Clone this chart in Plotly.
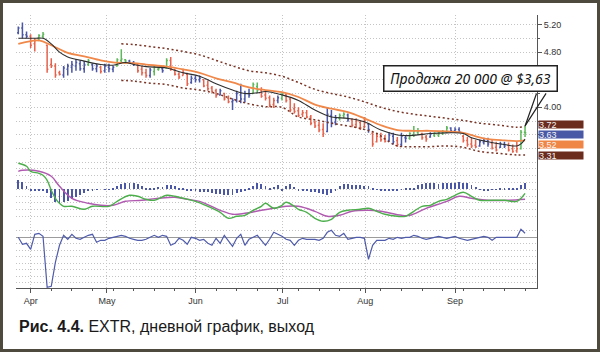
import plotly.graph_objects as go

# ---------------- data ----------------
month_labels = ["Apr", "May", "Jun", "Jul", "Aug", "Sep"]
month_pos = [3, 21.5, 43, 64.2, 84.2, 106]
price_labels = [4.00, 4.80, 5.20]

highs = [5.17, 5.23, 5.10, 5.06, 5.00, 5.06, 5.09, 4.91, 4.71, 4.64,
         4.53, 4.60, 4.63, 4.67, 4.70, 4.67, 4.67, 4.70, 4.64, 4.63,
         4.60, 4.63, 4.63, 4.60, 4.71, 4.84, 4.70, 4.69, 4.67, 4.64,
         4.60, 4.56, 4.57, 4.60, 4.57, 4.60, 4.71, 4.73, 4.56, 4.51,
         4.56, 4.50, 4.46, 4.46, 4.46,
         4.41, 4.39, 4.31, 4.27, 4.27, 4.21, 4.17, 4.13, 4.24, 4.34,
         4.24, 4.27, 4.36, 4.36, 4.29, 4.24, 4.17, 4.14, 4.17, 4.21,
         4.20, 4.14, 4.06, 4.00, 3.96, 3.96, 3.89, 3.81, 3.79, 3.77,
         3.99, 3.96, 3.89, 3.91, 3.93, 3.91, 3.84, 3.84, 3.81, 3.86,
         3.77, 3.64, 3.63, 3.63, 3.60, 3.64, 3.63, 3.57,
         3.63, 3.60, 3.64, 3.73, 3.70, 3.63, 3.60, 3.64, 3.64, 3.64,
         3.67, 3.73, 3.71, 3.71, 3.71, 3.60, 3.57, 3.56, 3.53, 3.53,
         3.56, 3.56, 3.53, 3.50, 3.50, 3.50, 3.49, 3.46, 3.50, 3.67,
         3.73]
lows = [5.06, 5.00, 5.00, 4.86, 4.81, 4.96, 5.00, 4.50, 4.57, 4.43,
        4.46, 4.43, 4.46, 4.50, 4.53, 4.53, 4.50, 4.60, 4.53, 4.51,
        4.49, 4.50, 4.51, 4.51, 4.59, 4.64, 4.63, 4.63, 4.60, 4.50,
        4.46, 4.43, 4.43, 4.46, 4.53, 4.50, 4.56, 4.53, 4.46, 4.41,
        4.46, 4.31, 4.34, 4.36, 4.36,
        4.29, 4.24, 4.21, 4.14, 4.17, 4.10, 4.06, 3.96, 4.07, 4.06,
        4.07, 4.14, 4.20, 4.21, 4.14, 4.10, 4.00, 3.99, 4.06, 4.10,
        4.07, 3.93, 3.91, 3.86, 3.86, 3.84, 3.74, 3.70, 3.64, 3.57,
        3.64, 3.71, 3.74, 3.81, 3.84, 3.79, 3.71, 3.70, 3.67, 3.70,
        3.63, 3.43, 3.49, 3.50, 3.49, 3.50, 3.46, 3.43,
        3.43, 3.49, 3.53, 3.57, 3.60, 3.53, 3.50, 3.56, 3.57, 3.57,
        3.60, 3.63, 3.63, 3.63, 3.63, 3.49, 3.43, 3.41, 3.41, 3.43,
        3.46, 3.43, 3.39, 3.36, 3.41, 3.41, 3.36, 3.34, 3.34, 3.39,
        3.57]
opens = [5.08, 5.15, 5.05, 5.03, 4.92, 4.97, 5.03, 4.90, 4.62, 4.60,
         4.50, 4.47, 4.55, 4.58, 4.60, 4.63, 4.56, 4.62, 4.62, 4.56,
         4.58, 4.53, 4.58, 4.55, 4.60, 4.68, 4.69, 4.67, 4.65, 4.62,
         4.55, 4.50, 4.46, 4.52, 4.55, 4.56, 4.57, 4.68, 4.54, 4.48,
         4.46, 4.48, 4.36, 4.42, 4.40,
         4.40, 4.32, 4.28, 4.24, 4.18, 4.20, 4.13, 4.08, 4.10, 4.18,
         4.12, 4.20, 4.20, 4.30, 4.25, 4.18, 4.14, 4.04, 4.10, 4.13,
         4.18, 4.12, 3.98, 3.95, 3.90, 3.92, 3.86, 3.78, 3.74, 3.68,
         3.65, 3.88, 3.78, 3.84, 3.88, 3.89, 3.82, 3.75, 3.78, 3.72,
         3.76, 3.62, 3.50, 3.57, 3.54, 3.52, 3.58, 3.52,
         3.46, 3.56, 3.55, 3.60, 3.64, 3.62, 3.57, 3.57, 3.59, 3.60,
         3.62, 3.64, 3.70, 3.66, 3.68, 3.58, 3.52, 3.47, 3.45, 3.44,
         3.49, 3.52, 3.48, 3.42, 3.42, 3.46, 3.45, 3.40, 3.37, 3.40,
         3.64]
closes = [5.15, 5.05, 5.03, 4.90, 4.97, 5.04, 5.06, 4.55, 4.60, 4.47,
          4.48, 4.57, 4.60, 4.62, 4.65, 4.56, 4.62, 4.68, 4.56, 4.60,
          4.52, 4.60, 4.56, 4.58, 4.69, 4.70, 4.67, 4.65, 4.62, 4.53,
          4.50, 4.46, 4.54, 4.58, 4.56, 4.53, 4.68, 4.56, 4.48, 4.44,
          4.50, 4.34, 4.42, 4.40, 4.42,
          4.31, 4.27, 4.23, 4.17, 4.24, 4.12, 4.08, 4.10, 4.20, 4.12,
          4.20, 4.18, 4.33, 4.25, 4.16, 4.13, 4.03, 4.10, 4.14, 4.19,
          4.10, 3.96, 3.94, 3.88, 3.92, 3.86, 3.77, 3.73, 3.67, 3.62,
          3.90, 3.78, 3.84, 3.88, 3.90, 3.82, 3.74, 3.80, 3.70, 3.80,
          3.68, 3.47, 3.58, 3.53, 3.51, 3.60, 3.50, 3.46,
          3.58, 3.55, 3.62, 3.66, 3.66, 3.56, 3.54, 3.61, 3.62, 3.63,
          3.65, 3.70, 3.66, 3.68, 3.65, 3.52, 3.46, 3.44, 3.43, 3.50,
          3.52, 3.47, 3.41, 3.38, 3.47, 3.44, 3.38, 3.36, 3.40, 3.64,
          3.63]
impulse = list("bbbrrggrrrrbbbbbbgbbrbbbgggbbrrrbggbgrrrrrbbb"
               "rrrrbrrbbbbbggrrrrbgrrrrrrrrrrbbbggbrrrrbrrrrbbr"
               "bbgggrrbggggbbbrrrrbbbrrbbrrrgg")

ema_slow_idx = [0, 5, 8, 12, 16, 20, 23, 28, 31, 36, 40, 44, 48, 52, 56, 60, 64, 68,
                72, 76, 80, 84, 88, 92, 96, 100, 104, 108, 111, 114, 118, 121, 123]
ema_slow = [4.92, 4.97, 4.90, 4.79, 4.74, 4.68, 4.65, 4.64, 4.62, 4.59, 4.55, 4.50,
            4.42, 4.36, 4.29, 4.25, 4.22, 4.15, 4.04, 3.98, 3.93, 3.84, 3.74, 3.67,
            3.66, 3.66, 3.65, 3.63, 3.58, 3.54, 3.52, 3.51, 3.52]

ema_fast_idx = [0, 4, 6, 8, 10, 12, 16, 20, 23, 26, 28, 31, 36, 40, 44, 48, 52, 55,
                58, 60, 64, 68, 72, 76, 80, 84, 88, 92, 95, 97, 100, 104, 108, 110,
                114, 118, 121, 122, 123]
ema_fast = [5.00, 5.00, 5.00, 4.92, 4.80, 4.73, 4.67, 4.62, 4.61, 4.65, 4.62, 4.59,
            4.57, 4.50, 4.45, 4.34, 4.25, 4.20, 4.21, 4.23, 4.18, 4.10, 3.96, 3.86,
            3.84, 3.79, 3.67, 3.60, 3.59, 3.60, 3.62, 3.63, 3.62, 3.56, 3.50, 3.46,
            3.44, 3.47, 3.54]

env_up_idx = [25, 28, 32, 36, 40, 44, 48, 52, 56, 60, 64, 68, 72, 76, 80, 84, 88,
              92, 96, 100, 104, 108, 112, 117, 121, 123]
env_up = [4.92, 4.91, 4.88, 4.85, 4.81, 4.76, 4.68, 4.60, 4.53, 4.50, 4.45, 4.36,
          4.26, 4.20, 4.15, 4.08, 4.00, 3.94, 3.90, 3.87, 3.84, 3.81, 3.77, 3.74,
          3.71, 3.72]

env_dn_idx = [25, 28, 32, 36, 40, 44, 48, 52, 56, 60, 64, 68, 72, 76, 80, 84, 87,
              90, 92, 96, 100, 104, 108, 112, 117, 121, 123]
env_dn = [4.39, 4.38, 4.35, 4.33, 4.28, 4.25, 4.20, 4.12, 4.05, 4.01, 4.00, 3.86,
          3.82, 3.77, 3.73, 3.68, 3.62, 3.50, 3.44, 3.43, 3.43, 3.44, 3.42, 3.36,
          3.33, 3.31, 3.31]

macd_idx = [0, 2, 3, 5, 6, 7, 8, 9, 10, 11, 13, 16, 18, 22, 24, 27, 29, 31, 33, 36,
            38, 40, 43, 46, 49, 51, 53, 55, 57, 59, 60, 62, 64, 65, 67, 68, 70, 72,
            74, 76, 78, 80, 83, 85, 87, 89, 92, 94, 96, 98, 100, 102, 104, 106, 108,
            110, 112, 115, 118, 121, 123]
macd_line = [26, 23, 18, 16, 14, 9, -1, -9, -14, -17, -17, -20, -17, -17, -12, -6,
             -7, -10, -11, -6, -7, -9, -12, -17, -23, -29, -27, -26, -21, -17, -14,
             -19, -16, -13, -17, -20, -23, -29, -32, -30, -23, -21, -20, -19, -22,
             -25, -27, -27, -22, -17, -16, -12, -10, -6, -3, -7, -11, -11, -11, -12, -4]

signal_idx = [0, 1, 5, 8, 10, 13, 17, 20, 23, 26, 30, 34, 38, 41, 44, 49, 52, 55, 59,
              62, 65, 68, 72, 75, 78, 81, 85, 88, 93, 95, 99, 104, 107, 110, 114, 119, 123]
signal_line = [18, 19, 18, 13, 3, -9, -14, -16, -16, -12, -11, -9, -8, -10, -12, -21,
               -25, -24, -21, -19, -17, -17, -22, -27, -26, -22, -21, -22, -26, -26,
               -19, -12, -7, -9, -11, -11, -10]

macd_hist = [9, 7, 3, -1, -1, -1.5, -1.5, -4, -9, -13,
             -15, -13, -12, -10, -8, -6, -4, -2, -1, -0.5,
             0, -0.5, 0.3, 1, 3, 5, 6, 6, 6, 5,
             3, 1.5, 0.7, 1.5, 2, 2.5, 4, 4, 3, 1.5,
             0.7, -1, -1.5, -2, -2.5, -3, -3, -4, -5, -5,
             -6, -6, -6, -4, -3, -1.5, 1, 3, 6, 5,
             3, 0.7, 2, 4, -1, 3, 5, 2, -1, -2,
             -1.5, -2.5, -3, -4, -5, -5.5, -3.5, -1, 3, 5,
             5, 4.5, 4.5, 4, 3.5, 3, 1.5, -0.7, -1.3, -2,
             -1.7, -1.3, -1, -0.7, 0.5, 1, 1.5, 4, 5.5, 6,
             6, 6, 5.5, 6, 6, 6.5, 6.5, 7, 6.5, 6,
             4, 2, -0.7, -1.3, -1.3, -0.7, 0.3, 0.7, 0.7, 0.7,
             0.7, 0.7, 4, 6]

force_index = [0, -7, -6, -12, 3, 4, 1, -50, -49, -25,
               -8, 2, -2, 3, -1, -2, 0, 2, 3, -5,
               -3, -3, -1, 0, 1, 2, 1, -1, -2, -3,
               -3, -2, 0, 2, 0, 2, 1, -8, -6, -1,
               -3, -7, 0, -1, -3, -2, -6, -8, -1, -6,
               2, -3, -9, -1, 3, -8, -2, 0, 2, -3,
               -8, -2, 5, 3, 1, -2, -3, -8, -3,
               -1, -2, -2, -2, -3, -1, 5, 7, 2, 1,
               4, -2, -1, 0, 0, -1, -22, -8, -3, -3,
               -3, -1, -2, 0, -1, 0, 0, 2, 1, -1,
               -2, -1, 0, 1, 0, -1, 0, 1, -1, -2,
               -3, -2, -1, 0, 1, 0, -3, 0, 0, 0,
               0, 0, 0, 8, 4]

tag_values = [3.72, 3.63, 3.52, 3.31]
tag_texts = ["3.72", "3.63", "3.52", "3.31"]
tag_colors = ["#6b2b1d", "#4a59a6", "#f08646", "#6b2b1d"]
tag_shift = [2.5, -2, -4, -1]

note_text = "Продажа 20 000 @ $3,63"
caption_bold = "Рис. 4.4."
caption_rest = " EXTR, дневной график, выход"

# ---------------- styling ----------------
W, H = 600, 352
ML, MR, MT, MB = 16, 63, 15, 64
PW, PH = W - ML - MR, H - MT - MB
X0, STEP = 18.3, 4.12


def paper_x(px):
    return (px - ML) / PW


def paper_y(py):
    return (H - MB - py) / PH


xrange_ = [(ML - X0) / STEP, (W - MR - X0) / STEP]
days = list(range(len(highs)))

COL = {"g": "#5eb85a", "r": "#e5634d", "b": "#4a56a6"}
GRID = "#c4c4c4"
AX = "#555555"
FONT = "Liberation Sans, Arial, sans-serif"

fig = go.Figure()

for key in ["b", "r", "g"]:
    sel = [i for i in days if impulse[i] == key]
    fig.add_trace(go.Ohlc(
        x=sel,
        open=[opens[i] for i in sel], high=[highs[i] for i in sel],
        low=[lows[i] for i in sel], close=[closes[i] for i in sel],
        increasing=dict(line=dict(color=COL[key], width=1.5)),
        decreasing=dict(line=dict(color=COL[key], width=1.5)),
        tickwidth=0.3, xaxis="x", yaxis="y", hoverinfo="skip"))

fig.add_trace(go.Scatter(x=env_up_idx, y=env_up, mode="lines", xaxis="x", yaxis="y",
                         line=dict(color="#7a3324", width=1.5, dash="2px,2.6px", shape="spline")))
fig.add_trace(go.Scatter(x=env_dn_idx, y=env_dn, mode="lines", xaxis="x", yaxis="y",
                         line=dict(color="#7a3324", width=1.5, dash="2px,2.6px", shape="spline")))
fig.add_trace(go.Scatter(x=ema_slow_idx, y=ema_slow, mode="lines", xaxis="x", yaxis="y",
                         line=dict(color="#f0884a", width=1.8, shape="spline")))
fig.add_trace(go.Scatter(x=ema_fast_idx, y=ema_fast, mode="lines", xaxis="x", yaxis="y",
                         line=dict(color="#2e2e2e", width=1.1, shape="spline")))

fig.add_trace(go.Bar(x=days, y=macd_hist, width=0.22, marker=dict(color="#4a56a6", line=dict(width=0)),
                     xaxis="x2", yaxis="y2"))
fig.add_trace(go.Scatter(x=signal_idx, y=signal_line, mode="lines", xaxis="x2", yaxis="y2",
                         line=dict(color="#b05ab0", width=1.4, shape="spline")))
fig.add_trace(go.Scatter(x=macd_idx, y=macd_line, mode="lines", xaxis="x2", yaxis="y2",
                         line=dict(color="#4caf4c", width=1.4, shape="spline")))

fig.add_trace(go.Scatter(x=days, y=force_index, mode="lines", xaxis="x3", yaxis="y3",
                         line=dict(color="#4f5bab", width=1.2)))

dom_price = [paper_y(161), 1]
dom_macd = [paper_y(224), paper_y(161)]
dom_osc = [0, paper_y(224)]

xcommon = dict(range=xrange_, tickmode="array", tickvals=month_pos, ticktext=month_labels,
               showgrid=True, gridcolor=GRID, griddash="1px,2px", gridwidth=1,
               zeroline=False, fixedrange=True)

fig.update_layout(
    width=W, height=H, margin=dict(l=ML, r=MR, t=MT, b=MB),
    paper_bgcolor="white", plot_bgcolor="white", showlegend=False,
    font=dict(family=FONT, size=9, color="#333333"),
    xaxis=dict(**xcommon, anchor="y", showticklabels=False, ticks="",
               rangeslider=dict(visible=False)),
    xaxis2=dict(**xcommon, anchor="y2", showticklabels=False, ticks="", matches="x"),
    xaxis3=dict(**xcommon, anchor="y3", showticklabels=True, ticks="outside", ticklen=4,
                tickcolor=AX, showline=True, linecolor=AX, linewidth=1, matches="x",
                minor=dict(dtick=5, tick0=3, ticks="outside", ticklen=2, tickcolor=AX, showgrid=False),
                tickfont=dict(size=9, color="#333333")),
    yaxis=dict(domain=dom_price, range=[3.222, 5.338], side="right", anchor="x",
               tickmode="array", tickvals=price_labels, tickformat=".2f",
               ticks="outside", ticklen=4, tickcolor=AX,
               showline=True, linecolor=AX, linewidth=1,
               showgrid=True, gridcolor=GRID, griddash="1px,2px", zeroline=False,
               minor=dict(dtick=0.2, tick0=4.0, ticks="outside", ticklen=2, tickcolor=AX,
                          showgrid=True, gridcolor=GRID, griddash="1px,2px"),
               tickfont=dict(size=9, color="#333333")),
    yaxis2=dict(domain=dom_macd, range=[-34.7, 28.3], side="right", anchor="x2",
                showticklabels=False, ticks="", showline=True, linecolor=AX, linewidth=1,
                tickmode="linear", tick0=0, dtick=6.8,
                showgrid=True, gridcolor=GRID, griddash="1px,2px", zeroline=False),
    yaxis3=dict(domain=dom_osc, range=[-50.7, 13.3], side="right", anchor="x3",
                showticklabels=False, ticks="", showline=True, linecolor=AX, linewidth=1,
                tickmode="linear", tick0=0, dtick=6.5,
                showgrid=True, gridcolor=GRID, griddash="1px,2px",
                zeroline=True, zerolinecolor="#9c9c9c", zerolinewidth=1),
    bargap=0,
)

annotations = []
for txt, val, col, sh in zip(tag_texts, tag_values, tag_colors, tag_shift):
    annotations.append(dict(text=txt, x=1, xref="paper", y=val, yref="y", xanchor="left",
                            xshift=1, yshift=sh, showarrow=False, bgcolor=col, width=44,
                            height=7, borderpad=0, align="left",
                            font=dict(family=FONT, size=9, color="#f4f4f4")))

last = days[-1]
annotations.append(dict(text=note_text, x=last, y=highs[-1], xref="x", yref="y",
                        xshift=-55, yshift=47.5, showarrow=False, width=168, height=20,
                        borderpad=2, borderwidth=1.5, bordercolor="#222222", bgcolor="white",
                        font=dict(family="Noto Sans", size=14, color="#111111", style="italic")))
for dx in (12, 22):
    annotations.append(dict(text="", x=last, y=highs[-1], xref="x", yref="y", showarrow=True,
                            ax=dx, ay=-34, axref="pixel", ayref="pixel", arrowhead=0,
                            arrowwidth=1.2, arrowcolor="#222222"))

annotations.append(dict(text="<b>" + caption_bold + "</b>" + caption_rest,
                        x=paper_x(17), y=paper_y(326), xref="paper", yref="paper",
                        xanchor="left", yanchor="middle", showarrow=False,
                        font=dict(family=FONT, size=16, color="#1a1a1a")))
fig.update_layout(annotations=annotations)

fig.add_shape(type="rect", xref="paper", yref="paper",
              x0=paper_x(1.5), x1=paper_x(W - 1.5), y0=paper_y(H - 1.5), y1=paper_y(1.5),
              line=dict(color="#4e4a3e", width=3), fillcolor="rgba(0,0,0,0)", layer="above")

fig.write_html("out.html")
